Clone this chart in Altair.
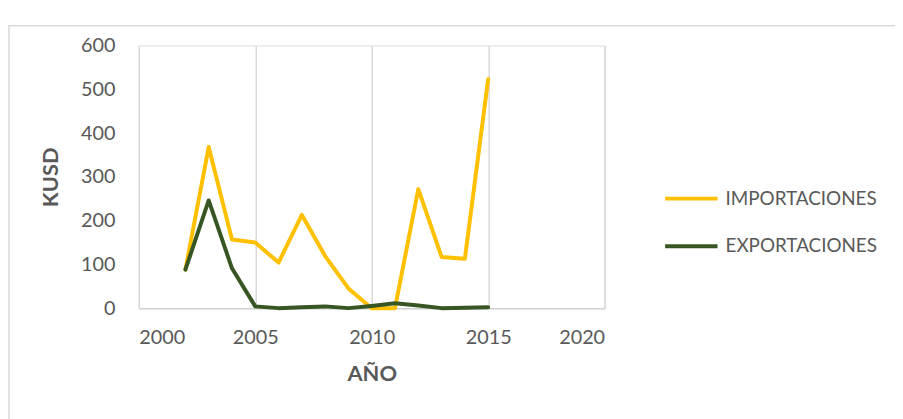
import altair as alt
import pandas as pd

years = list(range(2002, 2016))
importaciones = [88, 368, 157, 150, 104, 213, 119, 45, 0, 0, 272, 117, 113, 523]
exportaciones = [88, 246, 91, 4, 0, 2, 4, 0, 5, 11, 6, 0, 1, 2]
series = ["IMPORTACIONES", "EXPORTACIONES"]
colors = ["#FFC000", "#375623"]

rows = []
for name, vals in zip(series, [importaciones, exportaciones]):
    for y, v in zip(years, vals):
        rows.append({"AÑO": y, "KUSD": v, "serie": name})
df = pd.DataFrame(rows)

FONT = "Lato"
GREY = "#595959"

border = alt.Chart(pd.DataFrame({"a": [0]})).mark_rect(
    fill=None, stroke="#D9D9D9", strokeWidth=1.5, clip=False
).encode(
    x=alt.value(-131), x2=alt.value(820), y=alt.value(-20), y2=alt.value(420)
)

lines = alt.Chart(df).mark_line(strokeWidth=4, strokeJoin="round", strokeCap="round").encode(
    x=alt.X("AÑO:Q", scale=alt.Scale(domain=[2000, 2020], nice=False),
            axis=alt.Axis(values=[2000, 2005, 2010, 2015, 2020], format="d",
                          grid=True, gridColor="#D9D9D9", gridWidth=1.5,
                          domain=True, domainColor="#D0D0D0", domainWidth=1.5,
                          ticks=False, labelPadding=20, labelFontSize=20,
                          labelColor=GREY, labelFont=FONT,
                          title="AÑO", titleFontSize=22, titleFont=FONT,
                          titleFontWeight="bold", titleColor=GREY, titlePadding=16)),
    y=alt.Y("KUSD:Q", scale=alt.Scale(domain=[0, 600], nice=False),
            axis=alt.Axis(values=[0, 100, 200, 300, 400, 500, 600], grid=False,
                          domain=False, ticks=False, labelPadding=24,
                          labelFontSize=20, labelColor=GREY, labelFont=FONT,
                          title="KUSD", titleFontSize=22, titleFont=FONT,
                          titleFontWeight="bold", titleColor=GREY, titlePadding=18)),
    color=alt.Color("serie:N", scale=alt.Scale(domain=series, range=colors),
                    legend=alt.Legend(title=None, orient="none", legendX=529, legendY=126,
                                      symbolType="stroke", symbolSize=2800,
                                      symbolStrokeWidth=4, labelFontSize=19,
                                      labelFont=FONT, labelColor=GREY, labelLimit=400,
                                      rowPadding=9, labelOffset=6)),
    order=alt.Order("AÑO:Q"),
)

chart = alt.layer(border, lines).properties(
    width=470, height=265,
    autosize=alt.AutoSizeParams(type="none"),
    padding={"left": 132, "top": 36, "right": 293, "bottom": 110},
).configure_view(stroke=None).configure(background="white")

chart.save("out.html", embed_options={"renderer": "svg", "actions": False})
